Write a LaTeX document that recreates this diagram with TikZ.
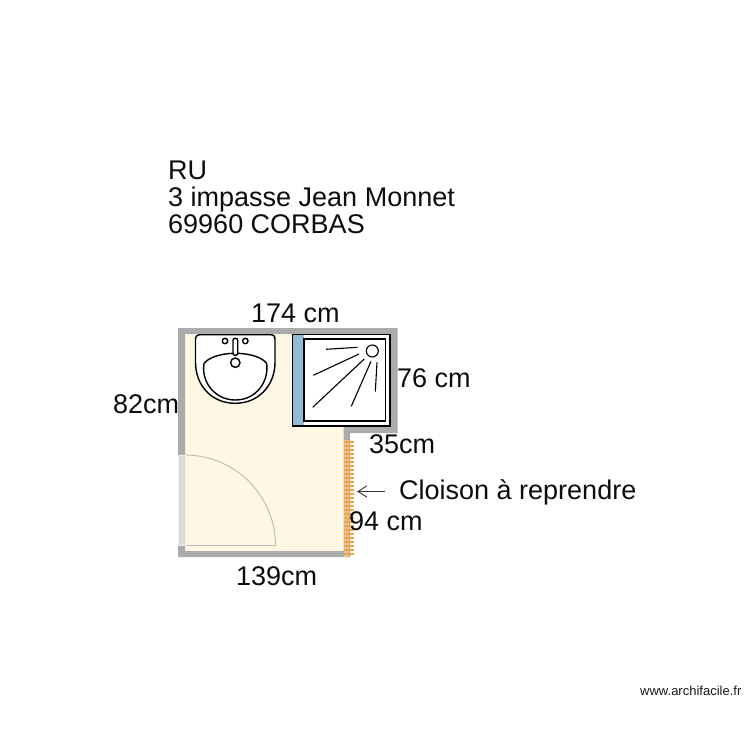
\documentclass[tikz,border=0pt]{standalone}
\usepackage{fontspec}
\setmainfont{Liberation Sans}
\usetikzlibrary{arrows.meta}
\definecolor{wallc}{HTML}{ABABAB}
\definecolor{floorc}{HTML}{FDF7E4}
\definecolor{bluec}{HTML}{93BDD6}
\definecolor{orangec}{HTML}{EBA650}
\definecolor{orangel}{HTML}{F1BE7C}
\definecolor{doorc}{HTML}{DCDCDC}
\definecolor{arcc}{HTML}{BDBAAD}
\tikzset{
  lbl/.style={anchor=base west,inner sep=0pt,font=\fontsize{27bp}{32bp}\selectfont,text=black!95},
  ware/.style={draw=black,line width=1.4bp,fill=white},
  shw/.style={draw=black,line width=1.1bp},
}
\begin{document}
\begin{tikzpicture}[x=1bp,y=-1bp]
\useasboundingbox (0,0) rectangle (750,750);
\fill[white] (0,0) rectangle (750,750);
% floor
\fill[floorc] (185,334) -- (390,334) -- (390,427) -- (343,427) -- (343,551) -- (185,551) -- cycle;
% walls
\fill[wallc] (178,328) -- (397.5,328) -- (397.5,433) -- (350,433) -- (350,557) -- (178,557) -- cycle
 -- (185,334) -- (185,551) -- (343.5,551) -- (343.5,427) -- (390.5,427) -- (390.5,334) -- (185,334) -- (178,328);
% door
\draw[arcc,line width=.9bp] (185,455) arc[start angle=-90,end angle=0,radius=90.5] -- (185,545.5);
\fill[doorc,draw=white!80!wallc,line width=.6bp] (178,455) rectangle (185,545.5);
% orange partition
\fill[orangel] (344,440) rectangle (349,556.5);
\foreach \k in {0,...,28}{\fill[orangec] (344,440.5+4*\k) rectangle (353.5,442.5+4*\k);}
% sink
\draw[ware] (195.5,340) .. controls (195.5,336) and (197,334.7) .. (201,334.7) -- (270,334.7)
  .. controls (274,334.7) and (275,336) .. (275,340) -- (275,362)
  .. controls (275,386) and (258,403.3) .. (235.3,403.3)
  .. controls (212,403.3) and (195.5,386) .. (195.5,362) -- cycle;
\draw[ware] (204,363.5) .. controls (208,358) and (220,353.3) .. (235.3,353.3)
  .. controls (251,353.3) and (263,358) .. (266.7,363.5)
  .. controls (269,382) and (256,400) .. (235.3,400)
  .. controls (215,400) and (201,382) .. (204,363.5) -- cycle;
\draw[ware,rounded corners=2bp] (233,338.3) rectangle (237.7,355.3);
\draw[ware] (225,341) circle[radius=2.7];
\draw[ware] (245.3,341) circle[radius=2.7];
\draw[ware] (235.3,362.7) circle[radius=4.7];
% shower
\fill[white] (292.5,334.5) rectangle (390,426);
\fill[bluec] (292.5,334.5) rectangle (304,426);
\draw[shw] (292.5,334.5) rectangle (390,426);
\draw[shw] (304,339) rectangle (385.7,421);
\draw[shw] (372.3,351) circle[radius=6];
\draw[shw] (326,349.3) -- (357.7,347.3);
\draw[shw] (313.3,375.3) -- (359,354);
\draw[shw] (312.7,407.3) -- (364.3,359);
\draw[shw] (351.3,406.3) -- (371,361.3);
\draw[shw] (375.3,391.7) -- (377,362.3);
% labels
\node[lbl] (t1) at (168,179) {RU};
\node[lbl] (t2) at (168,206) {3 impasse Jean Monnet};
\node[lbl] (t3) at (168,233) {69960 CORBAS};
\node[lbl] (d1) at (251,322) {174 cm};
\node[lbl] (d2) at (397,387) {76 cm};
\node[lbl] (d3) at (113,413) {82cm};
\node[lbl] (d4) at (369,453) {35cm};
\node[lbl] (d5) at (349,530) {94 cm};
\node[lbl] (d6) at (236,585) {139cm};
\node[lbl] (c1) at (399,499) {Cloison à reprendre};
\node[anchor=base west,inner sep=0pt,font=\fontsize{13bp}{15bp}\selectfont,text=black!90] (w) at (640,695) {www.archifacile.fr};
% arrow
\coordinate (a0) at (385,491.5);
\coordinate (a1) at (358,491.5);
\draw[black!80,line width=.9bp] (a0) -- (a1) -- ++(9,-5.7) (a1) -- ++(9,5.7);
\end{tikzpicture}
\end{document}
